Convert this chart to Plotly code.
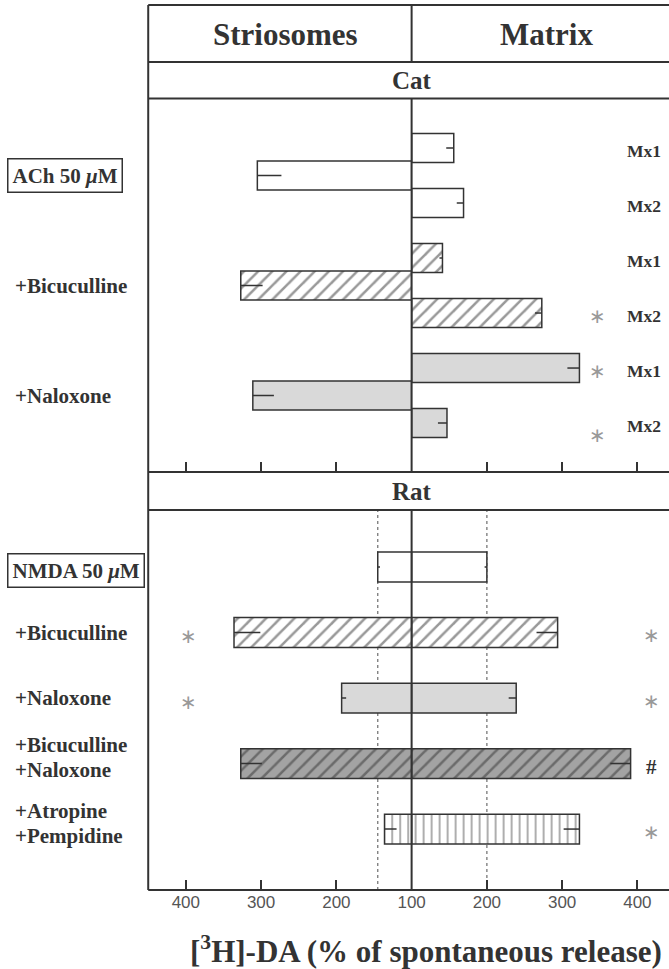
import numpy as np
import plotly.graph_objects as go

# ---------------- data ----------------
cat_conditions = ["ACh 50 <i>μ</i>M", "+Bicuculline", "+Naloxone"]
cat_strio = [305, 327, 311]
cat_strio_err = [32, 29, 28]
cat_mx1 = [156, 141, 323]
cat_mx1_err = [10, 4, 16]
cat_mx2 = [169, 273, 147]
cat_mx2_err = [9, 9, 12]
cat_mx_labels = ["Mx1", "Mx2"]
cat_mx1_sig = ["", "", "*"]
cat_mx2_sig = ["", "*", "*"]

rat_conditions = ["NMDA 50 <i>μ</i>M", "+Bicuculline", "+Naloxone",
                  "+Bicuculline<br>+Naloxone", "+Atropine<br>+Pempidine"]
rat_strio = [145, 336, 193, 327, 136]
rat_strio_err = [3, 35, 6, 28, 16]
rat_matrix = [200, 294, 239, 391, 323]
rat_matrix_err = [3, 28, 10, 27, 21]
rat_strio_sig = ["", "*", "*", "", ""]
rat_matrix_sig = ["", "*", "*", "#", "*"]

left_ticks = [100, 200, 300, 400]
right_ticks = [200, 300, 400]
BASE = 100

# ---------------- style ----------------
REF_W, H = 669, 969      # layout grid (reference pixels)
FIG_W = 684              # page width the browser actually lays out
INK = "#333333"
SERIF = "Liberation Serif, Times New Roman, serif"
SANS = "Liberation Sans, Arial, sans-serif"
STYLES = {
    "open": dict(bg="white", shape=""),
    "hatch": dict(bg="white", shape="/"),
    "gray": dict(bg="#d9d9d9", shape=""),
    "darkhatch": dict(bg="#a3a3a3", shape="/"),
    "vlines": dict(bg="white", shape="|"),
}
cat_styles = ["open", "hatch", "gray"]
rat_styles = ["open", "hatch", "gray", "darkhatch", "vlines"]


def px(x):
    return x / REF_W


def py(y):
    return 1 - y / H


fig = go.Figure()


def add_bars(vals, errs, rows, style, xa, ya, width):
    st = STYLES[style]
    marker = dict(color=st["bg"], line=dict(color=INK, width=1.5))
    if st["shape"] == "/":
        marker["pattern"] = dict(shape="/", fgcolor=INK, bgcolor=st["bg"], size=10, solidity=0.25)
    elif st["shape"] == "|":
        marker["pattern"] = dict(shape="|", fgcolor=INK, bgcolor=st["bg"], size=8, solidity=0.2)
    fig.add_trace(go.Bar(
        x=np.array(vals, dtype=float) - BASE, base=BASE, y=rows, orientation="h",
        width=width, xaxis=xa, yaxis=ya, marker=marker, showlegend=False,
        hoverinfo="skip",
        error_x=dict(type="data", symmetric=False, array=[0] * len(vals),
                     arrayminus=errs, width=0, thickness=1.5, color=INK),
    ))


# Cat panel: rows Mx1 = 4i, striosome = 4i+1, Mx2 = 4i+2
for i, cond in enumerate(cat_conditions):
    s = cat_styles[i]
    add_bars([cat_mx1[i]], [cat_mx1_err[i]], [4 * i], s, "x2", "y", 1.06)
    add_bars([cat_strio[i]], [cat_strio_err[i]], [4 * i + 1], s, "x", "y", 1.06)
    add_bars([cat_mx2[i]], [cat_mx2_err[i]], [4 * i + 2], s, "x2", "y", 1.06)

# Rat panel
for i, cond in enumerate(rat_conditions):
    s = rat_styles[i]
    add_bars([rat_strio[i]], [rat_strio_err[i]], [i], s, "x3", "y2", 0.455)
    add_bars([rat_matrix[i]], [rat_matrix_err[i]], [i], s, "x4", "y2", 0.455)

# ---------------- axes ----------------
XL = [px(148), px(411)]
XR = [px(411), 1.0]
PX_PER_UNIT = 263 / 350
right_max = BASE + (REF_W - 411) / PX_PER_UNIT
axis_common = dict(showgrid=False, zeroline=False, showline=False, ticks="inside",
                   ticklen=10, tickwidth=1.5, tickcolor=INK, fixedrange=True)
tickfont = dict(family=SANS, size=17, color="#555")

fig.update_layout(
    xaxis=dict(domain=XL, anchor="y", range=[450, 100], tickvals=left_ticks,
               showticklabels=False, **axis_common),
    xaxis2=dict(domain=XR, anchor="y", range=[100, right_max], tickvals=right_ticks,
                showticklabels=False, **axis_common),
    xaxis3=dict(domain=XL, anchor="y2", range=[450, 100], tickvals=left_ticks,
                showticklabels=True, tickfont=tickfont, **axis_common),
    xaxis4=dict(domain=XR, anchor="y2", range=[100, right_max], tickvals=right_ticks,
                showticklabels=True, tickfont=tickfont, **axis_common),
    yaxis=dict(domain=[py(472), py(98.5)], anchor="x", range=[11.78, -1.8],
               showgrid=False, zeroline=False, showticklabels=False, ticks="",
               fixedrange=True),
    yaxis2=dict(domain=[py(890), py(510)], anchor="x3", range=[4.93, -0.87],
                showgrid=False, zeroline=False, showticklabels=False, ticks="",
                fixedrange=True),
)

# ---------------- frame shapes ----------------
shapes = []
line = dict(color=INK, width=2)
TOP = 5
shapes.append(dict(type="line", xref="paper", yref="paper", x0=px(148), x1=px(148),
                   y0=py(TOP), y1=py(890), line=line))
for yy in [TOP, 62, 98.5, 472, 510, 890]:
    shapes.append(dict(type="line", xref="paper", yref="paper", x0=px(148), x1=1.01,
                       y0=py(yy), y1=py(yy), line=line))
for (a, b) in [(TOP, 62), (98.5, 472), (510, 890)]:
    shapes.append(dict(type="line", xref="paper", yref="paper", x0=px(411), x1=px(411),
                       y0=py(a), y1=py(b), line=line))
# dotted reference lines at NMDA level
dot = dict(color="#777", width=1.3, dash="dot")
shapes.append(dict(type="line", xref="x3", yref="y2 domain", x0=rat_strio[0], x1=rat_strio[0],
                   y0=0, y1=1, line=dot, layer="below"))
shapes.append(dict(type="line", xref="x4", yref="y2 domain", x0=rat_matrix[0], x1=rat_matrix[0],
                   y0=0, y1=1, line=dot, layer="below"))

# ---------------- annotations ----------------
ann = []


def text(t, x, y, size, xanchor="center", yref="paper", font=SERIF, color=INK,
         bold=True, **kw):
    ann.append(dict(text=t, x=x, y=y, xref="paper", yref=yref, xanchor=xanchor,
                    yanchor="middle", showarrow=False,
                    font=dict(family=font, size=size, color=color,
                              weight="bold" if bold else "normal"), **kw))


STAR_COLOR = "#999999"
text("Striosomes", px(285), py(34), 31)
text("Matrix", px(546), py(34), 31)
text("Cat", px(411), py(81), 25)
text("Rat", px(411), py(491), 25)

boxed = dict(bordercolor=INK, borderwidth=1.5, borderpad=4)
for i, cond in enumerate(cat_conditions):
    extra = boxed if i == 0 else {}
    text(cond, px(7) if i == 0 else px(13), 4 * i + 1, 21, xanchor="left", yref="y",
         align="left", **extra)
    text(cat_mx_labels[0], px(643), 4 * i + 0.1, 17.5, yref="y")
    text(cat_mx_labels[1], px(643), 4 * i + 2.1, 17.5, yref="y")
    if cat_mx1_sig[i]:
        text("∗", px(597), 4 * i + 0.12, 20, yref="y", font="DejaVu Sans",
             color=STAR_COLOR, bold=False)
    if cat_mx2_sig[i]:
        text("∗", px(597), 4 * i + 2 + (0.45 if i == 2 else 0.12), 20, yref="y",
             font="DejaVu Sans", color=STAR_COLOR, bold=False)

for i, cond in enumerate(rat_conditions):
    parts = cond.split("<br>")
    if len(parts) == 1:
        extra = boxed if i == 0 else {}
        text(cond, px(7) if i == 0 else px(13), i + (0.06 if i == 0 else 0),
             21, xanchor="left", yref="y2", **extra)
    else:
        for k, part in enumerate(parts):
            text(part, px(13), i - 0.28 + 0.38 * k, 21, xanchor="left", yref="y2")
    if rat_strio_sig[i]:
        text("∗", px(188), i + 0.06, 20, yref="y2", font="DejaVu Sans",
             color=STAR_COLOR, bold=False)
    s = rat_matrix_sig[i]
    if s == "*":
        text("∗", px(651), i + 0.04, 20, yref="y2", font="DejaVu Sans",
             color=STAR_COLOR, bold=False)
    elif s:
        text(s, px(651), i + 0.05, 21, yref="y2")

text("[<sup>3</sup>H]-DA (% of spontaneous release)", px(425), py(949), 31)

fig.update_layout(
    width=FIG_W, height=H, margin=dict(l=0, r=0, t=0, b=0),
    paper_bgcolor="white", plot_bgcolor="white", barmode="overlay",
    showlegend=False, shapes=shapes, annotations=ann, hovermode=False,
)

# remove the browser's default page margin so the figure fills the window exactly
fig.write_html(
    "out.html",
    config={"displayModeBar": False},
    post_script="document.body.style.margin='0';document.body.style.overflow='hidden';",
)
